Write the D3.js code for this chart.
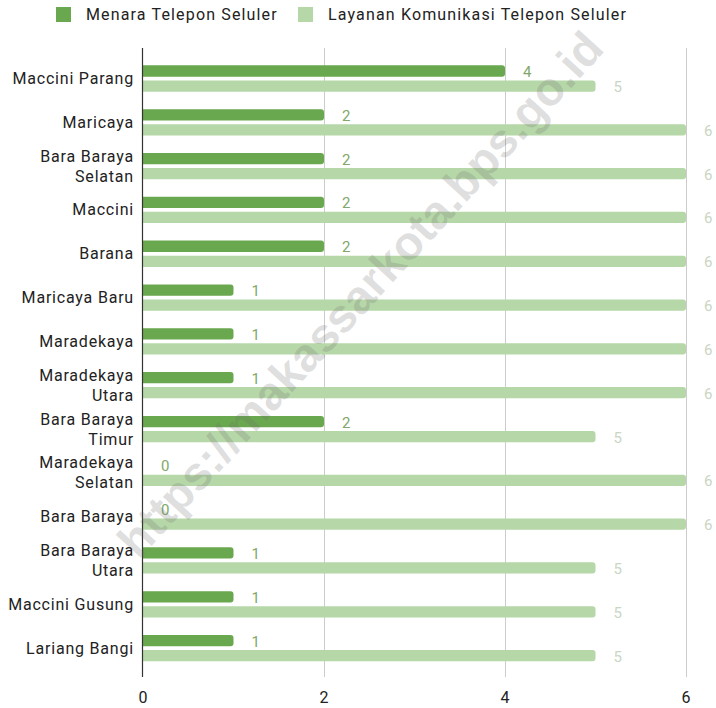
<!DOCTYPE html>
<html><head><meta charset="utf-8">
<script src="https://cdn.jsdelivr.net/npm/d3@7"></script>
<style>
body{margin:0;background:#fff;}
svg{display:block;font-family:Roboto, Arial, sans-serif;}
</style></head>
<body><svg id="chart" width="716" height="708"></svg>
<script>
const categories = ["Maccini Parang","Maricaya","Bara Baraya Selatan","Maccini","Barana","Maricaya Baru","Maradekaya","Maradekaya Utara","Bara Baraya Timur","Maradekaya Selatan","Bara Baraya","Bara Baraya Utara","Maccini Gusung","Lariang Bangi"];
const seriesNames = ["Menara Telepon Seluler","Layanan Komunikasi Telepon Seluler"];
const menara = [4,2,2,2,2,1,1,1,2,0,0,1,1,1];
const layanan = [5,6,6,6,6,6,6,6,5,6,6,5,5,5];
const xTicks = [0,2,4,6];
const colors = ["#6aa84f","#b6d7a8"];
const labelColors = ["#7fa86a","#c9d6c3"];

(function(){
const svg = d3.select("#chart");
const pLeft = 143, pRight = 686, pTop = 48, pBottom = 677;
const x = d3.scaleLinear().domain([0,6]).range([pLeft,pRight]);
const y = d3.scaleBand().domain(categories).range([56.6,670]).paddingInner(0.4).paddingOuter(0.2);
const ys = d3.scaleBand().domain([0,1]).range([0,y.bandwidth()]).paddingInner(0.25);

// gridlines
svg.append("g").selectAll("line").data(xTicks.filter(d=>d>0)).join("line")
  .attr("x1",d=>x(d)+0.5).attr("x2",d=>x(d)+0.5).attr("y1",pTop).attr("y2",pBottom)
  .attr("stroke","#cccccc").attr("stroke-width",1);

// x tick labels
svg.append("g").selectAll("text").data(xTicks).join("text")
  .attr("x",d=>x(d)).attr("y",697).attr("text-anchor","middle").attr("dominant-baseline","central")
  .attr("font-size",16).attr("fill","#222").text(d=>d);

// bars
const rows = categories.map((c,i)=>({c, vals:[menara[i],layanan[i]]}));
function barPath(x0,x1,y0,h,r){
  const w = x1-x0;
  if (w<=0) return "";
  r = Math.min(r,w,h/2);
  return `M${x0},${y0}H${x1-r}A${r},${r} 0 0 1 ${x1},${y0+r}V${y0+h-r}A${r},${r} 0 0 1 ${x1-r},${y0+h}H${x0}Z`;
}
const g = svg.append("g");
rows.forEach(row=>{
  row.vals.forEach((v,s)=>{
    const y0 = y(row.c)+ys(s);
    g.append("path").attr("d",barPath(x(0),x(v),y0,ys.bandwidth(),3)).attr("fill",colors[s]);
    g.append("text").attr("x",x(v)+18).attr("y",y0+ys.bandwidth()/2+1)
      .attr("dominant-baseline","central").attr("font-size",15)
      .attr("fill",labelColors[s]).text(v);
  });
});

// axis line
svg.append("line").attr("x1",pLeft-0.5).attr("x2",pLeft-0.5).attr("y1",pTop).attr("y2",pBottom)
  .attr("stroke","#333").attr("stroke-width",1.2);

// category labels
const cl = svg.append("g");
categories.forEach(c=>{
  const cy = y(c)+y.bandwidth()/2;
  let lines = [c];
  if (c.length>14){ const k=c.lastIndexOf(" "); lines=[c.slice(0,k),c.slice(k+1)]; }
  lines.forEach((t,i)=>{
    const off = lines.length===1?0:(i===0?-10:10);
    cl.append("text").attr("x",134).attr("y",cy+off).attr("text-anchor","end")
      .attr("dominant-baseline","central").attr("font-size",16).attr("letter-spacing","0.8px")
      .attr("fill","#222").text(t);
  });
});

// legend
const legX = [56,298];
seriesNames.forEach((n,i)=>{
  svg.append("rect").attr("x",legX[i]).attr("y",7).attr("width",15).attr("height",15).attr("fill",colors[i]);
  svg.append("text").attr("x",legX[i]+30).attr("y",14.5).attr("dominant-baseline","central")
    .attr("font-size",16).attr("letter-spacing","1.15px").attr("fill","#222").text(n);
});

// watermark (on top, semi-transparent)
svg.append("text")
  .attr("transform","translate(360,294) rotate(-47.5)")
  .attr("text-anchor","middle").attr("dominant-baseline","central")
  .attr("font-family","Arial, Liberation Sans, sans-serif")
  .attr("font-weight","bold").attr("font-size",47)
  .attr("fill","rgba(110,110,110,0.22)")
  .text("https://makassarkota.bps.go.id");
})();
</script></body></html>
